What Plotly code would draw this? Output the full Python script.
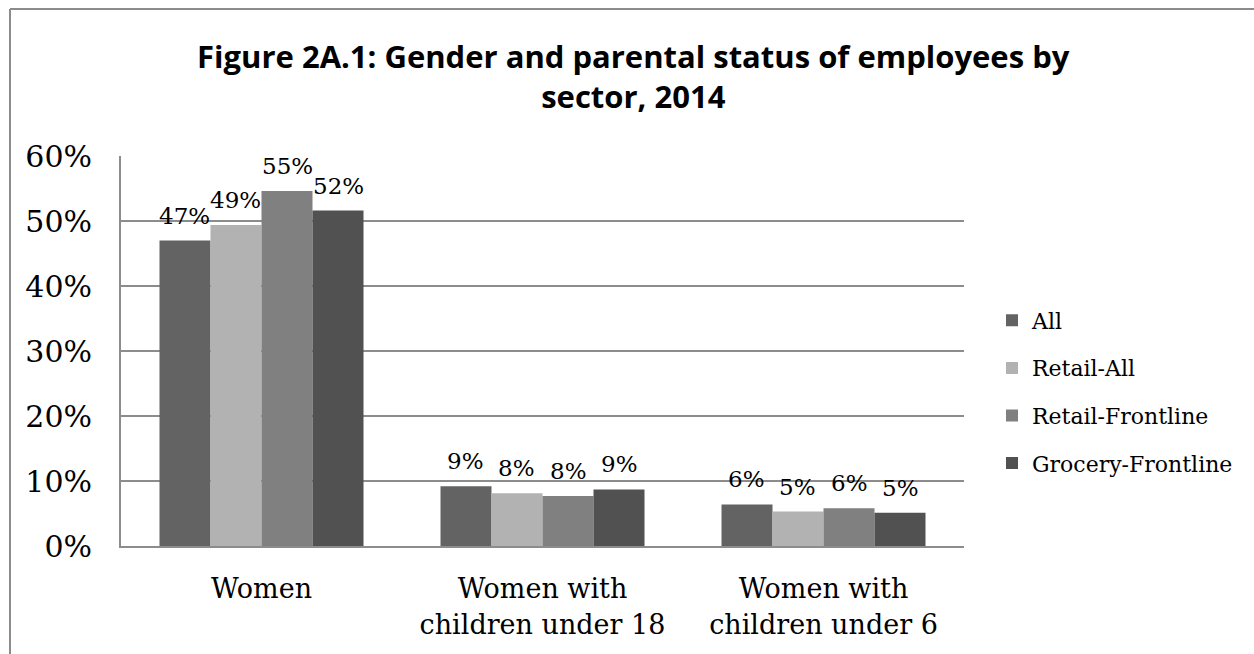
import plotly.graph_objects as go

categories = ["Women", "Women with<br>children under 18", "Women with<br>children under 6"]
series_names = ["All", "Retail-All", "Retail-Frontline", "Grocery-Frontline"]
all_vals = [0.470, 0.092, 0.064]
retail_all = [0.494, 0.081, 0.053]
retail_frontline = [0.546, 0.077, 0.058]
grocery_frontline = [0.516, 0.087, 0.051]
colors = ["#636363", "#b2b2b2", "#808080", "#515151"]
y_ticks = [0, 0.1, 0.2, 0.3, 0.4, 0.5, 0.6]

serif = "DejaVu Serif"
W, H = 1254, 654
ml, mr, mt, mb = 121, 290, 156, 108
pw, ph = W - ml - mr, H - mt - mb
bargap = 0.274

def px(x):
    return (x - ml) / pw

def py(y):
    return (H - mb - y) / ph

fig = go.Figure()
all_series = [all_vals, retail_all, retail_frontline, grocery_frontline]
n = len(all_series)
cat_w = pw / len(categories)
bar_w = cat_w * (1 - bargap) / n
annotations = []
for i, (name, vals) in enumerate(zip(series_names, all_series)):
    fig.add_trace(go.Bar(
        x=categories, y=vals, name=name, legendgroup=name,
        marker=dict(color=colors[i], line=dict(width=0)),
    ))
    off = (i - (n - 1) / 2) * bar_w
    for c, v in zip(categories, vals):
        annotations.append(dict(
            x=c, y=v, xref="x", yref="y", text=f"{round(v * 100)}%",
            showarrow=False, yanchor="bottom", xanchor="center",
            xshift=off, yshift=10,
            font=dict(family=serif, size=23, color="black"),
        ))

fig.update_layout(
    width=W, height=H,
    margin=dict(l=ml, r=mr, t=mt, b=mb, pad=0),
    paper_bgcolor="white", plot_bgcolor="white",
    barmode="group", bargap=bargap, bargroupgap=0,
    title=dict(
        text="<b>Figure 2A.1: Gender and parental status of employees by<br>sector, 2014</b>",
        font=dict(family="Open Sans", size=31, color="black"),
        x=0.505, xanchor="center", y=1 - 68 / H, yanchor="middle",
    ),
    legend=dict(
        x=px(992), xanchor="left", y=py(392), yanchor="middle",
        font=dict(family=serif, size=22, color="black"),
        tracegroupgap=16, traceorder="grouped",
        bgcolor="rgba(0,0,0,0)",
    ),
    showlegend=True,
    xaxis=dict(
        showline=True, linecolor="#8c8c8c", linewidth=2,
        showgrid=False, ticks="", ticklabelstandoff=18,
        tickfont=dict(family=serif, size=27, color="black"),
    ),
    yaxis=dict(
        range=[0, 0.6], tickvals=y_ticks, tickformat=".0%",
        showline=True, linecolor="#8c8c8c", linewidth=2,
        showgrid=True, gridcolor="#8c8c8c", gridwidth=2,
        zeroline=False, ticks="", ticklabelstandoff=21,
        tickfont=dict(family=serif, size=30, color="black"),
    ),
    annotations=annotations,
    shapes=[
        dict(type="line", xref="paper", yref="paper", x0=px(10), x1=px(1300), y0=py(9), y1=py(9),
             line=dict(color="#8c8c8c", width=2)),
        dict(type="line", xref="paper", yref="paper", x0=px(10), x1=px(10), y0=py(9), y1=py(700),
             line=dict(color="#8c8c8c", width=2)),
    ],
)

fig.write_html("out.html")
